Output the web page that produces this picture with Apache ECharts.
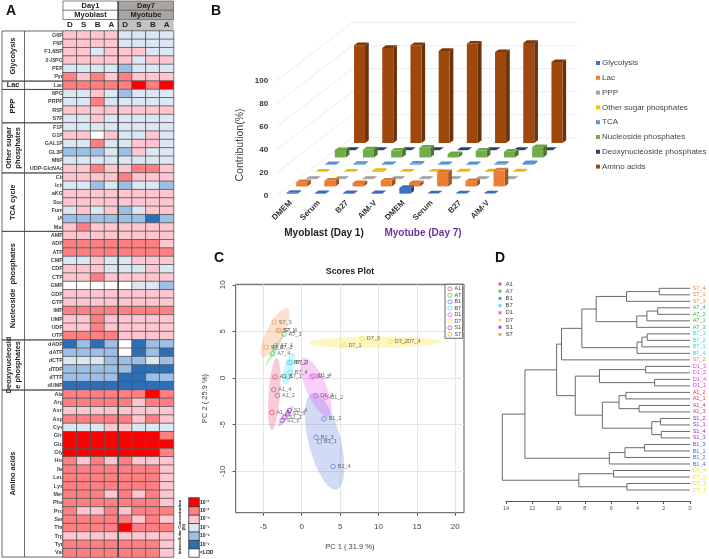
<!DOCTYPE html>
<html><head><meta charset="utf-8">
<style>html,body{margin:0;padding:0;background:#fff}#c{width:709px;height:559px}</style>
<script src="https://cdn.jsdelivr.net/npm/echarts@6/dist/echarts.min.js"></script>
</head><body><div id="c"></div>
<script>
const FONT='"Liberation Sans",Arial,sans-serif';
// ---------- Panel A ----------
const heatColumns=['D','S','B','A','D','S','B','A'];
const heatRows=['G6P','F6P','F1,6BP','2-/3PG','PEP','Pyr','Lac','6PG','PRPP','R5P','S7P','F1P','G1P','GAL1P','GL3P','M6P','UDP-GlcNAc','Cit','Icit','aKG','Suc','Fum','IA','Mal','AMP','ADP','ATP','CMP','CDP','CTP','GMP','GDP','GTP','IMP','UMP','UDP','UTP','dADP','dATP','dCTP','dTDP','dTTP','dUMP','Ala','Arg','Asn','Asp','Cys','Gln','Glu','Gly','His','Ile','Leu','Lys','Met','Phe','Pro','Ser','Thr','Trp','Tyr','Val'];
const heatLevels=[
[4,4,4,4,3,3,3,3],[4,4,4,4,3,3,3,3],[4,4,3,4,4,4,3,3],[4,4,4,4,4,3,4,4],[3,3,3,3,2,3,3,3],[5,4,5,4,5,4,4,4],
[5,5,5,5,5,6,5,6],
[3,3,4,3,2,3,3,3],[3,3,5,3,3,3,3,3],[4,4,4,4,4,4,4,4],[3,3,4,3,3,3,3,3],
[3,3,3,3,3,3,3,3],[4,4,0,4,3,3,4,3],[3,3,5,3,3,4,4,3],[2,2,2,3,2,4,3,3],[3,3,3,3,3,3,3,3],[4,4,5,4,4,5,5,4],
[4,4,4,4,5,4,4,4],[3,3,2,3,2,3,3,2],[4,4,4,4,4,4,4,4],[4,4,4,4,4,4,4,4],[3,4,3,4,2,3,4,4],[2,2,2,2,2,2,1,2],[4,5,4,4,4,4,4,4],
[4,4,4,4,4,4,4,4],[5,5,5,5,5,5,5,4],[5,5,5,5,5,5,5,5],[3,3,4,3,3,4,4,4],[4,4,4,3,3,3,4,3],[4,4,5,4,4,4,4,4],[0,0,0,0,0,3,3,2],[4,4,4,4,4,4,4,4],[4,4,4,4,4,4,4,4],[5,5,5,5,5,5,5,5],[4,4,5,4,4,4,4,4],[4,4,5,4,4,4,4,4],[5,5,5,5,4,4,4,4],
[1,2,1,2,0,1,2,2],[2,2,2,2,0,1,2,1],[3,3,3,2,2,2,3,2],[2,2,2,2,2,1,1,1],[2,2,2,2,1,1,2,2],[1,1,1,1,1,1,1,1],
[5,5,5,5,5,5,6,5],[5,5,5,5,5,4,5,5],[4,4,4,4,4,4,4,4],[5,5,5,5,5,4,5,4],[3,3,3,4,4,3,3,3],[6,6,6,6,6,6,6,5],[6,6,6,6,6,6,6,6],[6,6,6,6,6,6,6,5],[5,4,5,4,5,4,4,4],[5,5,5,5,5,5,5,4],[5,5,5,5,5,5,5,4],[5,5,5,5,5,5,5,4],[5,5,5,4,5,4,5,4],[5,5,5,5,5,5,5,4],[5,4,4,5,4,5,5,5],[5,5,5,5,5,4,5,4],[5,5,5,5,6,5,5,5],[4,4,4,4,4,4,4,4],[5,5,5,5,5,5,5,4],[5,5,5,5,5,5,5,4]];
const heatGroups=[['Glycolysis',6],['Lac',1],['PPP',4],['Other sugar\nphosphates',6],['TCA cycle',7],['Nucleoside  phosphates',13],['Deoxynucleosid\ne phosphates',6],['Amino acids',20]];
const levelLabels=['<LOD','10⁻⁷','10⁻⁶','10⁻⁵','10⁻⁴','10⁻³','10⁻²'];
const levelColors=['#ffffff','#2b6fb8','#9dbfe6','#dbe7f3','#ffc6d0','#ff7f82','#ff0000'];
// ---------- Panel B ----------
const mediaCategories=['DMEM','Serum','B27','AIM-V','DMEM','Serum','B27','AIM-V'];
const contributionTicks=[0,20,40,60,80,100];
const glycolysis=[0.8,0.5,0.5,0.5,5,0.3,0.3,0.3];
const lac=[3.7,5,3,5,3,12.5,4.6,14];
const ppp=[0.3,0.3,0.4,0.3,0.3,0.3,0.3,0.3];
const otherSugar=[0.3,0.3,1,0.3,0.3,0.5,0.5,0.5];
const tca=[0.5,0.8,0.5,1,0.5,0.5,0.8,1.5];
const nucleoside=[6.5,7,6,8.5,3,6,5,9];
const deoxy=[0.2,0.2,0.2,0.2,0.2,0.2,0.2,0.2];
const aminoAcids=[85,82.6,85,80,86.4,79,87,70.4];
const barNames=['Glycolysis','Lac','PPP','Other sugar phosphates','TCA','Nucleoside phosphates','Deoxynucleoside phosphates','Amino acids'];
const barValues=[glycolysis,lac,ppp,otherSugar,tca,nucleoside,deoxy,aminoAcids];
const barColors=['#3f70c8','#ed7d31','#a5a5a5','#ffc000','#5b9bd5','#70ad47','#264478','#9e480e'];
// ---------- Panel C ----------
const A1=[['A1_1',-3.47,0.11],['A1_4',-3.65,-1.26],['A1_2',-3.17,-1.87],['A1_3',-3.9,-3.7]];
const A7=[['A7_3',-2.3,4.7],['A7_1',-3.39,3.48],['A7_2',-3.47,3.23],['A7_4',-3.78,2.6]];
const B1=[['B1_2',2.9,-4.38],['B1_3',1.87,-6.36],['B1_1',2.3,-6.82],['B1_4',4.08,-9.5]];
const B7=[['B7_2',-1.65,1.65],['B7_3',-1.43,1.65],['B7_4',-1.52,0.61],['B7_1',-2.26,0.18]];
const D1=[['D1_1',1.3,0.14],['D1_4',1.56,0.22],['D1_3',1.82,-1.9],['D1_2',3.1,-2.05]];
const D7=[['D7_1',5.47,3.52],['D7_3',7.86,4.24],['D7_2',11.5,3.88],['D7_4',13.15,3.88]];
const S1=[['S1_4',-1.6,-3.48],['S1_3',-1.82,-3.84],['S1_1',-2.26,-4.2],['S1_2',-2.56,-4.56]];
const S7=[['S7_3',-3.6,6.0],['S7_1',-3.1,5.1],['S7_4',-2.9,5.1],['S7_2',-4.64,3.3]];
const groupNames=['A1','A7','B1','B7','D1','D7','S1','S7'];
const groupPoints=[A1,A7,B1,B7,D1,D7,S1,S7];
const groupColors=['#e8305f','#3fb54b','#4a6fd8','#35d6f2','#e83fe8','#f7e01c','#9a28c4','#f28a3c'];
const ellipseAxes={A1:[-3.26,2.16,-3.9,-5.57,5.7],A7:[-4.69,1.33,-2.26,4.78,1.6],B1:[1.39,-1.62,4.56,-11.96,16],B7:[-1.09,2.69,-2.26,-0.72,5],D1:[0.22,2.16,3.47,-4.13,10],D7:[0.87,3.77,18.14,3.88,5.8],S1:[-1.09,-2.98,-3.04,-5.2,2.5],S7:[-5.12,2.26,-1.82,7.47,8.5]};
const ellipseOrder=['D7','B1','D1','A1','S1','B7','A7','S7'];
const pc1Ticks=[-5,0,5,10,15,20];
const pc2Ticks=[-10,-5,0,5,10];
// ---------- Panel D ----------
const leaves=['S7_4','S7_1','S7_3','A7_4','A7_2','A7_1','A7_3','B7_3','B7_2','B7_1','B7_4','S7_2','D1_3','D1_2','D1_4','D1_1','A1_2','A1_1','A1_4','A1_3','S1_2','S1_1','S1_4','S1_3','B1_3','B1_1','B1_2','B1_4','D7_4','D7_2','D7_3','D7_1'];
const merges=[
['S7_4','S7_1',2.34,'a'],['a','S7_3',4.83,'b'],
['A7_4','A7_2',2.46,'c'],['c','A7_1',3.28,'d'],['d','A7_3',4.05,'e'],['b','e',7.14,'f'],
['B7_3','B7_2',3.26,'g'],['g','B7_1',3.66,'h'],['h','B7_4',4.03,'i'],['f','i',8.23,'j'],['j','S7_2',9.78,'k'],
['D1_3','D1_2',3.38,'l'],['D1_4','D1_1',2.69,'m'],['l','m',6.89,'n'],
['A1_2','A1_1',4.88,'o'],['A1_4','A1_3',3.88,'p'],['o','p',5.4,'q'],
['S1_2','S1_1',2.24,'r'],['S1_4','S1_3',2.19,'s'],['r','s',2.91,'t'],['q','t',6.67,'u'],['n','u',8.73,'v'],['k','v',10.15,'w'],
['B1_3','B1_1',3.46,'x'],['x','B1_2',4.95,'y'],['y','B1_4',6.14,'z'],['w','z',12.56,'aa'],
['D7_4','D7_2',5.82,'ab'],['D7_3','D7_1',4.8,'ac'],['ab','ac',8.46,'ad'],['aa','ad',14.28,'ae']];

function shade(hex,f){const n=parseInt(hex.slice(1),16);const c=[n>>16,(n>>8)&255,n&255].map(v=>Math.round(v*f));return 'rgb('+c.join(',')+')';}

const series=[];
// A heatmap
const heatData=[];heatLevels.forEach((r,y)=>r.forEach((v,x)=>heatData.push([x,y,v])));
series.push({type:'heatmap',xAxisIndex:0,yAxisIndex:0,data:heatData,silent:true,z:3,itemStyle:{borderColor:'#555',borderWidth:0.8},progressive:0,animation:false});
// A group boxes on the row scale
const gData=[];let rs=0;heatGroups.forEach((g,i)=>{gData.push([rs,rs+g[1],i]);rs+=g[1];});
series.push({type:'custom',xAxisIndex:0,yAxisIndex:0,clip:false,silent:true,z:2,data:gData,encode:{x:[],y:[0,1]},renderItem(p,api){
  const g=heatGroups[api.value(2)];const cs=p.coordSys;const rowH=cs.height/heatRows.length;
  const y0=cs.y+api.value(0)*rowH,y1=cs.y+api.value(1)*rowH,lx=2;
  const horiz=g[1]===1;
  return {type:'group',children:[
    {type:'rect',shape:{x:lx,y:y0,width:cs.x-lx,height:y1-y0},style:{fill:'none',stroke:'#444',lineWidth:0.8}},
    {type:'line',shape:{x1:24.5,y1:y0,x2:24.5,y2:y1},style:{stroke:'#444',lineWidth:0.8}},
    {type:'text',x:13,y:(y0+y1)/2,rotation:horiz?0:Math.PI/2,style:{text:g[0],font:'bold 7.4px '+FONT,lineHeight:9,fill:'#222',align:'center',verticalAlign:'middle'}}
  ]};
}});
// A legend heatmap
series.push({type:'heatmap',xAxisIndex:1,yAxisIndex:1,silent:true,z:3,data:levelLabels.map((l,i)=>[0,i,i]),itemStyle:{borderColor:'#333',borderWidth:0.8}});
// B walls
series.push({type:'custom',xAxisIndex:2,yAxisIndex:2,clip:false,silent:true,z:1,data:contributionTicks.map(v=>[0,v]),renderItem(p,api){
  const c=api.coord([0,api.value(1)]);const cs=p.coordSys;const x=cs.x,y=c[1],dx=75.4,dy=-58;
  return {type:'polyline',shape:{points:[[x,y],[x+dx,y+dy],[x+dx+cs.width,y+dy]]},style:{fill:'none',stroke:'#e6e6e6',lineWidth:0.8}};
}});
// B bars
const STEPX=9.65,STEPY=7.25,W=11,DX=3.7,DY=-2.6;
barNames.forEach((name,s)=>{
  const col=barColors[s];
  series.push({type:'custom',name,xAxisIndex:2,yAxisIndex:2,clip:false,silent:true,z:20-s,itemStyle:{color:col},data:barValues[s].map((v,i)=>[i,v]),encode:{x:0,y:1},renderItem(p,api){
    const base=api.coord([api.value(0),0]),top=api.coord([api.value(0),api.value(1)]);
    const ox=base[0]-4.3+STEPX*s,by=base[1]-2-STEPY*s,ty=top[1]-2-STEPY*s;
    return {type:'group',children:[
      {type:'polygon',shape:{points:[[ox+W,by],[ox+W+DX,by+DY],[ox+W+DX,ty+DY],[ox+W,ty]]},style:{fill:shade(col,0.68)}},
      {type:'polygon',shape:{points:[[ox,ty],[ox+W,ty],[ox+W+DX,ty+DY],[ox+DX,ty+DY]]},style:{fill:s===7?shade(col,0.78):shade(col,0.95)}},
      {type:'rect',shape:{x:ox,y:ty,width:W,height:by-ty},style:{fill:col}}
    ]};
  }});
});
// C ellipses
series.push({type:'custom',xAxisIndex:3,yAxisIndex:3,clip:false,silent:true,z:2,data:ellipseOrder.map((n,i)=>[i]),renderItem(p,api){
  const n=ellipseOrder[api.value(0)],e=ellipseAxes[n],col=groupColors[groupNames.indexOf(n)];
  const a=api.coord([e[0],e[1]]),b=api.coord([e[2],e[3]]);
  const cx=(a[0]+b[0])/2,cy=(a[1]+b[1])/2,hx=(b[0]-a[0])/2,hy=(b[1]-a[1])/2,l=Math.hypot(hx,hy);
  const nx=-hy/l*e[4],ny=hx/l*e[4],pts=[];
  for(let k=0;k<72;k++){const t=k/72*Math.PI*2;pts.push([cx+hx*Math.cos(t)+nx*Math.sin(t),cy+hy*Math.cos(t)+ny*Math.sin(t)]);}
  return {type:'polygon',shape:{points:pts},style:{fill:col,opacity:n==='D7'?0.28:0.25}};
}});
// C scatter
groupNames.forEach((name,i)=>{
  series.push({type:'scatter',name,xAxisIndex:3,yAxisIndex:3,silent:true,z:5,symbol:'circle',symbolSize:4.5,
    itemStyle:{color:'transparent',borderColor:groupColors[i],borderWidth:0.8},
    label:{show:true,position:'right',distance:2,fontSize:5.5,fontFamily:FONT,color:'#444',formatter:q=>q.value[2]},
    labelLayout:{hideOverlap:false},
    data:groupPoints[i].map(d=>[d[1],d[2],d[0]])});
});
// D tree
const nodes={};leaves.forEach((n,i)=>nodes[n]={y:i,h:0});
const treeSegments=merges.map(m=>{const a=nodes[m[0]],b=nodes[m[1]];nodes[m[3]]={y:(a.y+b.y)/2,h:m[2]};return [a.h,a.y,b.h,b.y,m[2]];});
series.push({type:'custom',xAxisIndex:4,yAxisIndex:4,clip:false,silent:true,z:3,data:treeSegments,encode:{x:[0,2,4],y:[1,3]},renderItem(p,api){
  const h=api.value(4);
  const pts=[[api.value(0),api.value(1)],[h,api.value(1)],[h,api.value(3)],[api.value(2),api.value(3)]].map(q=>api.coord(q));
  return {type:'polyline',shape:{points:pts},style:{fill:'none',stroke:'#6a6a6a',lineWidth:1}};
}});

const option={
  animation:false,backgroundColor:'#fff',textStyle:{fontFamily:FONT},
  grid:[
    {left:63,top:31,width:110.5,height:526},
    {left:189,top:498,width:10,height:59},
    {left:276.7,top:80.7,width:225.6,height:115},
    {left:235.7,top:284.3,width:228.3,height:228.4,show:true,borderColor:'#555',borderWidth:1,backgroundColor:'transparent'},
    {left:506,top:288.3,width:187.7,height:201.7}
  ],
  xAxis:[
    {gridIndex:0,type:'category',position:'top',data:heatColumns.map((c,i)=>c+i),axisLine:{show:false},axisTick:{show:false},splitLine:{show:false},axisLabel:{interval:0,margin:2,fontSize:8,fontWeight:'bold',color:'#222',formatter:v=>v[0]}},
    {gridIndex:1,type:'category',data:['x'],show:false},
    {gridIndex:2,type:'category',data:mediaCategories.map((c,i)=>c+'|'+i),axisLine:{show:false},axisTick:{show:false},splitLine:{show:false},axisLabel:{interval:0,rotate:45,margin:6,fontSize:8,fontWeight:'bold',color:'#333',formatter:v=>v.split('|')[0]}},
    {gridIndex:3,type:'value',position:'bottom',min:-8.6,max:21.13,axisLine:{show:false,onZero:false},axisTick:{customValues:pc1Ticks,length:3,lineStyle:{color:'#555'}},axisLabel:{customValues:pc1Ticks,fontSize:8,color:'#444',margin:10},splitLine:{show:true,lineStyle:{color:'#e6e6e6',width:1}},name:'PC 1 ( 31.9 %)',nameLocation:'middle',nameGap:30,nameTextStyle:{fontSize:7.5,color:'#444'}},
    {gridIndex:4,type:'value',position:'bottom',inverse:true,min:0,max:14,interval:2,offset:11,axisLine:{show:true,onZero:false,lineStyle:{color:'#555',width:1}},axisTick:{show:true,length:3,lineStyle:{color:'#555'}},axisLabel:{fontSize:5.5,color:'#555',margin:4},splitLine:{show:false}}
  ],
  yAxis:[
    {gridIndex:0,type:'category',inverse:true,data:heatRows,axisLine:{show:false},axisTick:{show:false},splitLine:{show:false},axisLabel:{interval:0,margin:0,fontSize:5.5,fontWeight:'bold',color:'#444'}},
    {gridIndex:1,type:'category',inverse:false,data:levelLabels,position:'right',axisLine:{show:false},axisTick:{show:false},axisLabel:{interval:0,margin:1,fontSize:5,fontWeight:'bold',color:'#222'}},
    {gridIndex:2,type:'value',min:0,max:100,interval:20,axisLine:{show:false},axisTick:{show:false},splitLine:{show:false},axisLabel:{margin:8.5,fontSize:8,fontWeight:'bold',color:'#333'}},
    {gridIndex:3,type:'value',position:'left',min:-14.45,max:10.05,axisLine:{show:false,onZero:false},axisTick:{customValues:pc2Ticks,length:3,lineStyle:{color:'#555'}},axisLabel:{customValues:pc2Ticks,rotate:90,fontSize:8,color:'#444',margin:9},splitLine:{show:true,lineStyle:{color:'#e6e6e6',width:1}},name:'PC 2 ( 25.9 %)',nameLocation:'middle',nameGap:27,nameTextStyle:{fontSize:7.5,color:'#444'}},
    {gridIndex:4,type:'value',inverse:true,min:0,max:31,interval:1,position:'right',axisLine:{show:false,onZero:false},axisTick:{show:false},splitLine:{show:false},axisLabel:{margin:2.6,fontSize:5.6,color:v=>groupColors[groupNames.indexOf(leaves[+v].slice(0,2))],formatter:v=>leaves[v]}}
  ],
  visualMap:{show:false,type:'piecewise',seriesIndex:[0,2],dimension:2,pieces:levelColors.map((c,i)=>({value:i,color:c}))},
  legend:[
    {orient:'vertical',left:596,top:59,padding:0,itemWidth:4,itemHeight:4,itemGap:6.8,icon:'rect',selectedMode:false,data:barNames,textStyle:{fontSize:8,color:'#444',fontFamily:FONT,padding:[0,0,0,-3]}},
    {orient:'vertical',left:445,top:284.3,padding:[2,1.5,1.5,2.5],backgroundColor:'#fff',borderColor:'#444',borderWidth:0.8,itemWidth:5,itemHeight:4,itemGap:1.5,selectedMode:false,data:groupNames.map((n,i)=>({name:n,icon:'circle',itemStyle:{color:'transparent',borderColor:groupColors[i],borderWidth:0.8}})),textStyle:{fontSize:5.3,color:'#444',fontFamily:FONT,padding:[0,0,0,-3]},z:8},
    {orient:'vertical',left:498.5,top:281,padding:0,itemWidth:3,itemHeight:3,itemGap:1.2,selectedMode:false,data:groupNames.map((n,i)=>({name:n,icon:'rect',itemStyle:{color:groupColors[i],borderWidth:0}})),textStyle:{fontSize:6,color:'#444',fontFamily:FONT,padding:[0,0,0,-1]}}
  ],
  series,
  graphic:{elements:[
    {type:'rect',shape:{x:63,y:1,width:55,height:18.5},style:{fill:'#fff',stroke:'#666',lineWidth:0.8},z:1},
    {type:'rect',shape:{x:118.3,y:1,width:55.2,height:18.5},style:{fill:'#a8a5a2',stroke:'#666',lineWidth:0.8},z:1},
    {type:'rect',shape:{x:118.3,y:20,width:55.2,height:11},style:{fill:'#c4c2c0'},z:0},
    {type:'line',shape:{x1:63,y1:10.2,x2:173.5,y2:10.2},style:{stroke:'#555',lineWidth:0.8},z:2},
    {type:'line',shape:{x1:118.2,y1:1,x2:118.2,y2:557},style:{stroke:'#444',lineWidth:1.4},z:6},
    {type:'text',x:90.5,y:5.8,style:{text:'Day1',font:'bold 7.5px '+FONT,fill:'#222',align:'center',verticalAlign:'middle'},z:3},
    {type:'text',x:146,y:5.8,style:{text:'Day7',font:'bold 7.5px '+FONT,fill:'#222',align:'center',verticalAlign:'middle'},z:3},
    {type:'text',x:90.5,y:15.2,style:{text:'Myoblast',font:'bold 7.5px '+FONT,fill:'#222',align:'center',verticalAlign:'middle'},z:3},
    {type:'text',x:146,y:15.2,style:{text:'Myotube',font:'bold 7.5px '+FONT,fill:'#222',align:'center',verticalAlign:'middle'},z:3},
    {type:'text',x:182,y:527,rotation:Math.PI/2,style:{text:'Intracellular Concentration\n(M)',font:'bold 4.3px '+FONT,fill:'#222',align:'center',verticalAlign:'middle'},z:3},
    {type:'text',x:11,y:11.5,style:{text:'A',font:'bold 14px '+FONT,fill:'#111',align:'center',verticalAlign:'middle'},z:3},
    {type:'text',x:216,y:11.5,style:{text:'B',font:'bold 14px '+FONT,fill:'#111',align:'center',verticalAlign:'middle'},z:3},
    {type:'text',x:219,y:258,style:{text:'C',font:'bold 14px '+FONT,fill:'#111',align:'center',verticalAlign:'middle'},z:3},
    {type:'text',x:500,y:258,style:{text:'D',font:'bold 14px '+FONT,fill:'#111',align:'center',verticalAlign:'middle'},z:3},
    {type:'text',x:240,y:145,rotation:Math.PI/2,style:{text:'Contribution(%)',font:'10.5px '+FONT,fill:'#444',align:'center',verticalAlign:'middle'},z:3},
    {type:'text',x:324,y:233,style:{text:'Myoblast (Day 1)',font:'bold 10px '+FONT,fill:'#222',align:'center',verticalAlign:'middle'},z:3},
    {type:'text',x:423,y:233,style:{text:'Myotube (Day 7)',font:'bold 10px '+FONT,fill:'#7030a0',align:'center',verticalAlign:'middle'},z:3},
    {type:'text',x:350,y:272,style:{text:'Scores Plot',font:'bold 8.8px '+FONT,fill:'#222',align:'center',verticalAlign:'middle'},z:3}
  ]}
};
const chart=echarts.init(document.getElementById('c'),null,{renderer:'canvas',width:709,height:559});
chart.setOption(option);
</script></body></html>
